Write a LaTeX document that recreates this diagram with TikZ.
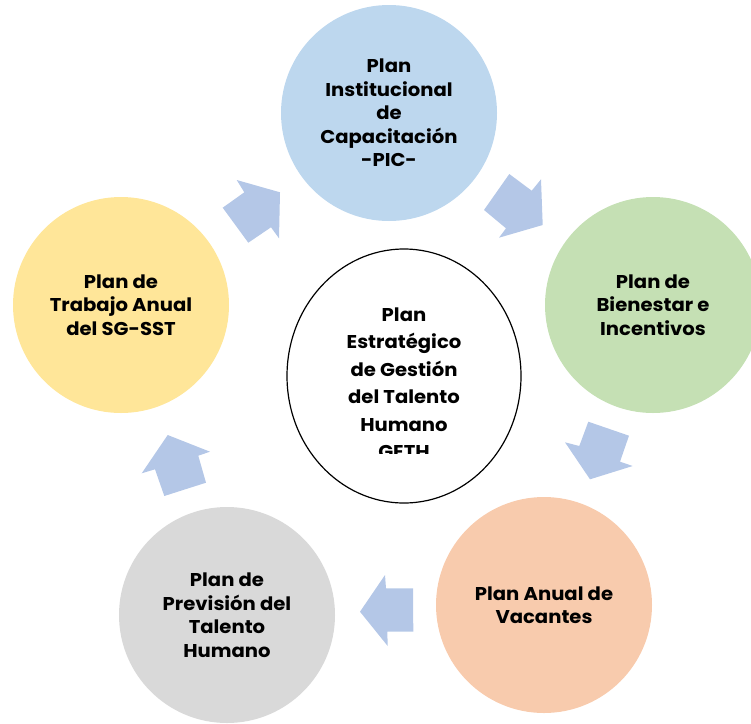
\documentclass[tikz,border=0pt]{standalone}
\usepackage{fontspec}
\setmainfont{Poppins}[FakeStretch=1.06]
\usetikzlibrary{shapes.geometric,positioning}
\definecolor{picblue}{HTML}{BDD7EE}
\definecolor{bienestargreen}{HTML}{C5E0B4}
\definecolor{vacantesorange}{HTML}{F8CBAD}
\definecolor{previsiongray}{HTML}{D9D9D9}
\definecolor{sstyellow}{HTML}{FFE699}
\definecolor{arrowblue}{HTML}{B4C7E7}
\tikzset{
  plan/.style={circle,minimum size=216pt,inner sep=0pt,align=center,
    font=\fontsize{18.5}{23.5}\selectfont\bfseries},
  flecha/.style={fill=arrowblue},
}

\begin{document}
\begin{tikzpicture}[x=1pt,y=-1pt]
\useasboundingbox (0,0) rectangle (751,723);
\clip (0,0) rectangle (751,723);
% planes
\node[plan,fill=picblue] (pic) at (389,113) {Plan\\Institucional\\de\\Capacitación\\-PIC-};
\node[plan,fill=bienestargreen] (bienestar) at (653,305) {Plan de\\Bienestar e\\Incentivos};
\node[plan,fill=vacantesorange] (vacantes) at (544,605) {Plan Anual de\\Vacantes};
\node[plan,fill=previsiongray] (prevision) at (227,615) {Plan de\\Previsión del\\Talento\\Humano};
\node[plan,fill=sstyellow] (sgsst) at (121,305) {Plan de\\Trabajo Anual\\del SG-SST};
% centro
\node[ellipse,draw=black,line width=1.2pt,fill=white,minimum width=234pt,minimum height=254pt] (geth) at (404,376) {};
\begin{scope}
  \clip (300,290) rectangle (510,453);
  \node[align=center,font=\fontsize{18.5}{27.5}\selectfont\bfseries] (gethtxt) at (404,383) {Plan\\Estratégico\\de Gestión\\del Talento\\Humano\\GETH};
\end{scope}
% flechas
\fill[flecha] (236.7,180) -- (280,192.3) -- (279,238.3) -- (271,227.3) -- (248.3,242.7) -- (222.7,207.7) -- (244.3,192.3) -- cycle;
\fill[flecha] (509.3,174) -- (531.7,190.7) -- (541,179.3) -- (542.7,225) -- (499,237.7) -- (506,228.3) -- (484,210) -- cycle;
\fill[flecha] (588.3,421.7) -- (629,435.7) -- (620,461.7) -- (632.7,466) -- (590,479.3) -- (565,442.3) -- (579.3,446) -- cycle;
\fill[flecha] (413,588.3) -- (386,588.3) -- (385,575) -- (360,611.7) -- (387.7,646) -- (387.3,631.7) -- (413.3,631.7) -- cycle;
\fill[flecha] (167.7,435) -- (210,451.7) -- (198.3,455.7) -- (206,482.7) -- (164.3,496) -- (155,469.3) -- (141.7,473.3) -- cycle;

\end{tikzpicture}
\end{document}
